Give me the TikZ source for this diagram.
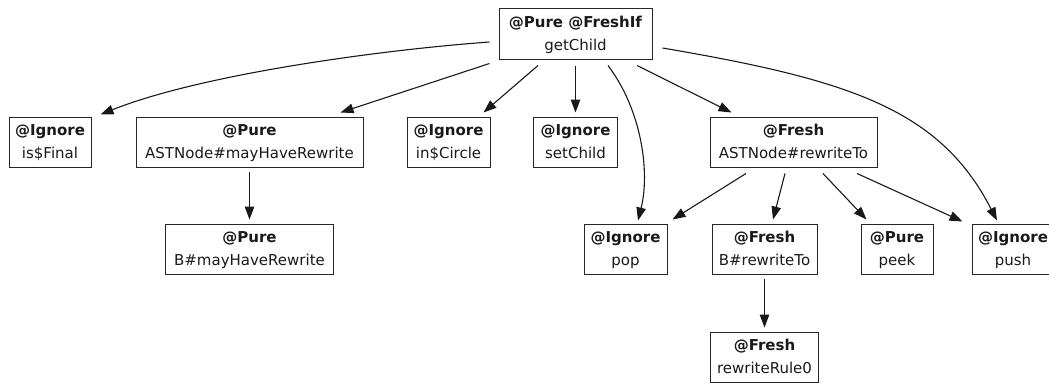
\documentclass[tikz,border=0pt]{standalone}
\usepackage{fontspec}
\setmainfont{DejaVu Sans}
\usetikzlibrary{arrows.meta}
% two-line method label: bold annotation over the method name
\newcommand\fnlabel[2]{\rule{0pt}{13pt}\textbf{#1}\\#2\rule[-4pt]{0pt}{4pt}}
\begin{document}
\begin{tikzpicture}[x=1pt,y=-1pt,
  fn/.style={draw=black!85, line width=1pt, rectangle, inner sep=0pt,
    minimum height=50pt, align=center, text=black!90, font=\fontsize{15}{23}\selectfont},
  call/.style={line width=1.1pt, draw=black!90, -{Triangle[length=13pt,width=9.5pt]}},
]
\useasboundingbox (0,0) rectangle (1049,383);

% call graph nodes
\node[fn, minimum width=153pt, minimum height=51pt] (getChild) at (575.5,34) {\fnlabel{@Pure @FreshIf}{getChild}};

\node[fn, minimum width=82pt]  (isFinal)   at (50,142)    {\fnlabel{@Ignore}{is\$Final}};
\node[fn, minimum width=227pt] (mayHave)   at (249.5,142) {\fnlabel{@Pure}{ASTNode\#mayHaveRewrite}};
\node[fn, minimum width=83pt]  (inCircle)  at (448.5,142) {\fnlabel{@Ignore}{in\$Circle}};
\node[fn, minimum width=84pt]  (setChild)  at (575.5,142) {\fnlabel{@Ignore}{setChild}};
\node[fn, minimum width=167pt] (rewriteTo) at (793.5,142) {\fnlabel{@Fresh}{ASTNode\#rewriteTo}};

\node[fn, minimum width=168pt] (bMayHave)   at (249.5,249) {\fnlabel{@Pure}{B\#mayHaveRewrite}};
\node[fn, minimum width=83pt]  (pop)        at (625.5,249) {\fnlabel{@Ignore}{pop}};
\node[fn, minimum width=105pt] (bRewriteTo) at (764.5,249) {\fnlabel{@Fresh}{B\#rewriteTo}};
\node[fn, minimum width=72pt]  (peek)       at (897,249)   {\fnlabel{@Pure}{peek}};
\node[fn, minimum width=82pt]  (push)       at (1013,249)  {\fnlabel{@Ignore}{push}};

\node[fn, minimum width=108pt] (rewriteRule) at (764.5,357) {\fnlabel{@Fresh}{rewriteRule0}};

% calls made by getChild
\draw[call] ([shift={(-9,8)}]getChild.west)
  .. controls +(-110,8) and +(100,-40) .. ([shift={(9,-2)}]isFinal.north east);
\draw[call] ([shift={(-9,3.5)}]getChild.south west) -- ([shift={(-23,-4)}]mayHave.north east);
\draw[call] ([shift={(-37.5,5.5)}]getChild.south) -- ([shift={(-7,-4)}]inCircle.north east);
\draw[call] ([shift={(0,5.5)}]getChild.south) -- ([shift={(0,-4)}]setChild.north);
\draw[call] ([shift={(32.5,5.5)}]getChild.south)
  .. controls +(34,45) and +(12,-48) .. ([shift={(12.5,-3)}]pop.north);
\draw[call] ([shift={(61.5,5.5)}]getChild.south) -- ([shift={(22,-4)}]rewriteTo.north west);
\draw[call] ([shift={(10,14)}]getChild.east)
  .. controls +(188,32) and +(-57,-111) .. ([shift={(-16,-3)}]push.north);

% calls made by ASTNode#mayHaveRewrite
\draw[call] ([shift={(0,4)}]mayHave.south) -- ([shift={(0,-4)}]bMayHave.north);

% calls made by ASTNode#rewriteTo
\draw[call] ([shift={(-47.5,6)}]rewriteTo.south) -- ([shift={(5,-4)}]pop.north east);
\draw[call] ([shift={(-8.5,6)}]rewriteTo.south) -- ([shift={(8.5,-4)}]bRewriteTo.north);
\draw[call] ([shift={(29.5,6)}]rewriteTo.south) -- ([shift={(6,-4)}]peek.north west);
\draw[call] ([shift={(63.5,6)}]rewriteTo.south) -- ([shift={(-9,-2)}]push.north west);

% calls made by B#rewriteTo
\draw[call] ([shift={(0,4)}]bRewriteTo.south) -- ([shift={(0,-4)}]rewriteRule.north);
\end{tikzpicture}
\end{document}
